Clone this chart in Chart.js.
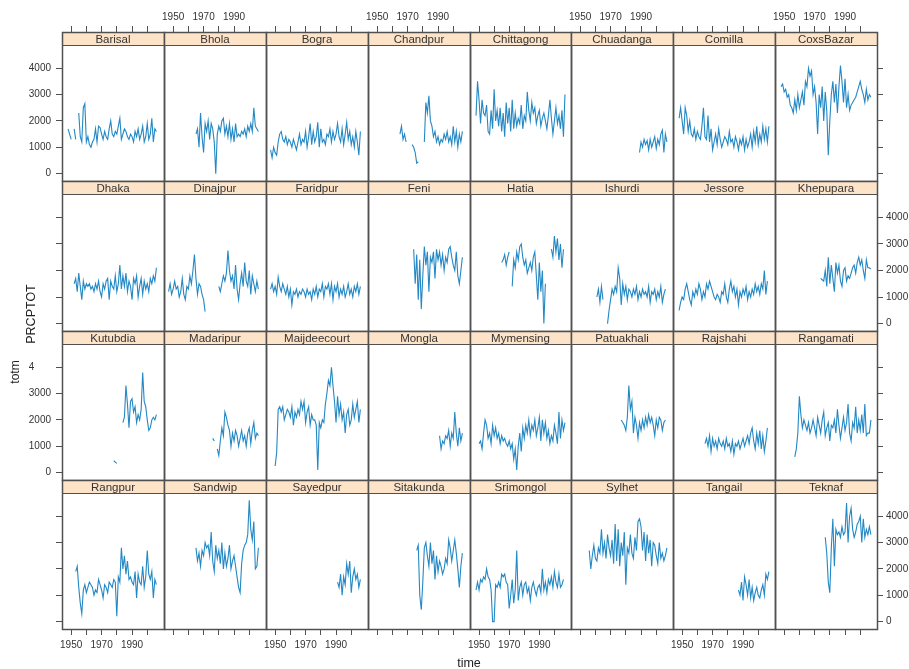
<!DOCTYPE html>
<html><head><meta charset="utf-8">
<script src="https://cdn.jsdelivr.net/npm/chart.js@4.4.1/dist/chart.umd.min.js"></script>
<style>
html,body{margin:0;padding:0;background:#fff;width:909px;height:669px;overflow:hidden;}
#wrap{position:relative;width:909px;height:669px;background:#fff;}
canvas{position:absolute;}
.strip{position:absolute;font-family:"Liberation Sans",Arial,sans-serif;font-size:11.5px;color:#333;text-align:center;pointer-events:none;white-space:nowrap;}
.lab{position:absolute;font-family:"Liberation Sans",Arial,sans-serif;color:#222;white-space:nowrap;transform-origin:center center;}
</style></head><body><div id="wrap"></div>
<script>
// ---------------- data ----------------
const stations = ["Barisal","Bhola","Bogra","Chandpur","Chittagong","Chuadanga","Comilla","CoxsBazar",
  "Dhaka","Dinajpur","Faridpur","Feni","Hatia","Ishurdi","Jessore","Khepupara",
  "Kutubdia","Madaripur","Maijdeecourt","Mongla","Mymensing","Patuakhali","Rajshahi","Rangamati",
  "Rangpur","Sandwip","Sayedpur","Sitakunda","Srimongol","Sylhet","Tangail","Teknaf"];
const firstYear = [1948,1965,1947,1965,1948,1989,1948,1948,
  1952,1947,1947,1974,1965,1961,1948,1974,
  1978,1976,1950,1991,1950,1977,1965,1957,
  1953,1965,1991,1976,1948,1956,1987,1977];
const xTicks = [1950,1960,1970,1980,1990,2000];
const xTickLabels = ["1950","","1970","","1990",""];
const yTicks = [0,1000,2000,3000,4000];
const yTickLabels = ["0","1000","2000","3000","4000"];

const barisal = [1700,1500,1300,null,1700,1300,null,2300,1400,1200,2500,2650,1200,1400,1100,1000,1200,1300,1700,1200,1800,1750,1500,1300,1600,1400,1300,1700,2000,1500,1400,1600,1500,1800,2100,1300,1500,1700,1600,1400,1300,1500,1400,1200,1600,1400,1700,1300,1500,1800,1200,1400,1900,1300,1500,2100,1200,1700,1600];
const bhola = [1500,1700,1000,2300,1400,800,1900,1600,2000,1300,1900,1700,1200,0,1500,1800,1600,2000,2100,1500,1800,1400,1900,1300,1700,1200,1900,1400,1500,1400,1600,1500,1700,1400,1800,1600,1900,1600,2500,1800,1700,1600];
const bogra = [900,600,1000,800,700,1200,1500,1600,1300,1200,1400,1100,1300,1200,1000,1300,1100,900,1200,1500,1100,1300,1200,1600,1000,1400,1900,1100,1600,1200,1400,1950,1000,1700,1200,1300,1100,1500,1400,1700,1200,1600,1300,1500,1900,1400,1200,1700,1100,1500,1950,1300,1600,1100,1400,1000,1600,1200,700,1600];
const chandpur = [1500,1800,1300,1500,1200,null,null,null,1100,1000,800,400,450,null,null,null,1200,2700,2300,2950,2000,1800,1400,1600,1200,1400,1100,1300,1200,1500,1300,1600,1200,1400,1100,1800,1200,1600,1000,1500,1200,1600];
const chittagong = [2200,3500,2800,1900,2800,2300,2200,2600,1600,1500,2400,1700,3200,2000,2400,1800,2500,1600,2300,1400,2700,1900,2500,1600,2800,1700,2300,1800,2100,1900,2600,1700,2200,2000,3100,2400,2000,2700,2300,2500,1900,2200,2400,1800,2100,2300,2000,1700,2200,2800,2100,1500,2000,2500,1900,2200,1700,2400,1400,3000];
const chuadanga = [800,1200,1000,1300,1100,1250,900,1300,1000,1200,1400,950,1300,1100,1500,1650,800,1500,1200];
const comilla = [2100,2500,2000,1500,2500,2200,1600,2000,1500,1400,1700,1300,1600,1400,1300,1800,2500,1400,1300,2200,1200,1700,900,1200,1500,1100,1700,1300,1000,1200,1400,1300,1100,1600,1200,1300,1000,1400,1200,900,1300,1100,1400,900,1300,1000,1200,1500,1000,1600,1200,1800,1100,1500,1200,1800,1300,1700,1200,1800];
const coxsBazar = [3300,3400,3100,3200,2900,3000,2600,2500,2300,2800,2400,3000,2500,2800,3100,2600,3500,3300,4000,3700,3900,3000,3300,2700,1500,3000,2500,3300,2000,3100,2400,700,2000,3000,3500,2700,3400,2300,3300,4100,3500,2700,3600,2500,3000,2400,2600,2700,2800,2900,3100,3300,3500,3200,3000,2700,3200,2800,3000,2900];
const dhaka = [1500,1700,1200,1900,1400,900,1600,1300,1500,1400,1500,1300,1400,1200,1500,1300,1600,1200,1000,1500,1300,1600,1700,900,1600,1400,1300,1800,1200,1500,2200,1300,1800,1400,1900,1200,1600,1400,900,1700,1500,1800,1000,1400,1700,1100,1600,1300,1500,1200,1700,1500,1800,1600,2100];
const dinajpur = [1200,1500,1100,1300,1600,1300,1400,1000,1200,1700,1100,900,1400,1300,1800,1500,2000,2600,1700,1100,1500,1400,1100,900,450,null,null,null,null,null,null,null,null,1400,1200,1500,1800,1600,1900,2750,2000,1600,1800,1300,2200,1300,900,1500,1900,1400,2300,1600,1400,2000,1100,1800,1500,1200,1600,1300];
const faridpur = [1300,1500,1200,1400,1100,1750,1400,1200,1500,1300,1100,1400,1000,1300,700,1200,1100,1300,1000,1200,1100,1300,1200,1000,1300,1100,1200,900,1300,1100,1400,1000,1300,1200,1500,1000,1400,1300,1500,1100,1500,900,1400,1200,1500,1000,1300,1100,1400,1000,1200,1500,1100,1300,1000,1400,1200,1500,1100,1400];
const feni = [2800,1500,2600,900,2400,550,1800,2900,2200,2700,1200,2500,2300,2700,1700,2800,2400,2700,2200,2600,2000,2500,2300,2800,2900,2500,2200,2000,2700,1800,1500,2000,2500];
const hatia = [2300,2400,2600,2200,2500,2700,null,1400,2400,2100,2700,2400,2900,3000,2500,2200,2400,1900,2100,2300,2000,2500,2700,1800,900,2300,1200,2000,0,1500,null,null,null,2800,2500,3300,2700,3200,2400,3000,2100,2800];
const ishurdi = [1000,1300,800,1400,900,null,null,0,500,900,1300,1100,1400,1200,2100,1700,700,1500,1100,1400,900,1300,1200,1000,1300,1100,1400,900,1200,1000,1300,1100,1200,1000,1400,800,1200,1100,1300,900,1200,1000,1400,800,1100,1300];
const jessore = [500,800,1000,900,1300,1500,1200,900,700,1200,1000,1300,1100,1500,1300,900,1200,1000,1500,1300,1600,1400,1200,1000,900,1100,1000,800,1200,1100,1500,1000,800,1300,1600,1200,1400,1000,1300,700,1200,1000,1300,1100,1400,900,1200,1000,1300,1100,1500,1200,1400,1100,1500,1300,2000,1100,1600];
const khepupara = [1700,1650,1600,2000,1400,2500,1500,2200,1700,1200,2300,1900,2200,1600,1400,2000,2100,1600,1800,1700,1900,2100,2200,1900,2300,2500,2200,2400,2000,1700,2400,2100,2100,2050];
const kutubdia = [450,400,350,null,null,null,1900,2100,3300,2600,1700,2700,2800,2300,2500,1900,2200,2000,2400,3800,2700,2500,2000,1600,1700,2000,2100,2000,2200];
const madaripur = [1300,1200,null,900,650,1200,1700,1400,2300,2100,1800,1600,1000,1500,1200,1600,1400,1000,1300,1600,1200,1400,1000,1500,1700,1100,1600,1900,1300,1500,1400];
const maijdeecourt = [250,750,2400,2500,2300,2500,2000,2200,2400,2300,2100,2500,1800,2300,2100,2400,2200,2700,2400,2700,1900,2300,2500,1800,2200,2000,2000,1800,100,1900,1700,2000,1900,2600,3000,3500,3300,4000,3300,2700,1900,2900,2200,2600,2000,2300,1500,2200,2400,1800,2000,2600,2100,2400,2700,1900,2400];
const mongla = [1400,900,1200,1100,1400,1300,1600,1000,1500,1300,2300,1500,1000,1700,1200,1500];
const mymensing = [1100,1200,900,1500,2000,1800,1300,1500,1100,1800,1400,1700,1300,1500,1100,1400,1200,1300,1100,1000,1200,900,1100,500,900,100,1000,1500,800,1700,1300,1800,1500,2000,1400,1800,1600,2000,1400,1700,2100,1200,2000,1500,1900,1300,1600,1100,1400,1200,1800,1500,1100,2300,1300,2000,1600,1900];
const patuakhali = [2000,1900,1800,1600,2100,3300,2400,2700,1500,2100,1800,1300,1900,1600,2000,1700,2100,1800,2200,1900,2100,1800,1400,2000,1700,2100,2000,1600,1900,2000];
const rajshahi = [1100,1300,1000,1400,800,1300,1000,1200,900,1300,1100,1000,1200,900,1300,1000,1100,800,1200,700,1100,1000,1200,900,1100,1300,1000,1200,1400,1100,1500,1700,1200,900,1500,1100,1600,900,1400,800,1200,1700];
const rangamati = [600,900,1500,2900,2200,1700,2000,1800,1600,1900,1500,1700,2000,1700,1400,2100,1800,1500,2000,2300,1400,1700,1900,1200,1800,1700,2000,1500,2400,1800,1300,1700,2100,1600,1900,2600,1500,1200,1900,1700,2500,1500,2000,1600,2200,1500,2600,1400,1500,1500,2000];
const rangpur = [1900,2100,1300,700,300,1200,1400,1100,1300,1500,1400,1300,1000,1200,1100,1600,1400,1200,900,1400,1300,1100,1500,1400,1300,1600,1500,200,1700,1500,2800,2000,2500,1800,2300,1600,1700,1500,1400,1900,900,1800,1500,1400,2100,1300,1700,2700,1800,1600,1900,900,1600,1400];
const sandwip = [2800,2300,2600,2100,2700,2500,3000,2800,2900,2500,3400,2300,1900,2900,2400,2700,2200,3000,2000,2600,2100,2400,2900,2000,2300,2500,2100,1700,1300,1100,2200,2700,2900,3000,3300,4600,3500,3100,3800,2000,2100,2800];
const sayedpur = [1500,1300,1800,1000,1700,1400,2200,1800,2300,1100,1700,2000,1600,1800,1300,1600];
const sitakunda = [2700,2900,1000,450,1500,2800,3000,2500,2100,3000,2200,2700,1600,2500,1900,2300,2100,1800,2000,2400,2200,3100,2800,2300,2700,3100,2600,2000,1300,2100,2600];
const srimongol = [1200,1500,1200,1600,1500,1700,1600,2000,1700,1600,1200,0,0,1400,1300,1500,1300,1800,1700,1800,1500,1400,500,1000,1600,700,1200,2700,800,1300,1500,1000,1400,1500,1100,1300,800,1300,1500,1200,1000,1300,1400,1100,2000,1200,1500,1100,1600,1400,1700,1300,1900,1500,1300,1800,1300,1400,1600];
const sylhet = [2700,2000,2500,2900,2400,2300,2800,2600,3500,2600,3000,2400,3300,2800,2500,3100,2200,3700,2300,3500,2100,3000,2500,3400,1400,2800,2600,3300,2600,2400,3200,2700,3800,3900,3600,2700,3400,2300,3300,2600,3100,2100,3000,2900,2500,2200,3000,2400,2600,2300,2500,2800];
const tangail = [1200,1000,1500,800,1700,1400,1000,1600,900,1300,800,1100,1300,1000,900,1200,1400,1000,1800,1600,1900];
const teknaf = [3200,2600,1500,1100,2800,3900,2100,3500,3300,3400,3200,3600,3300,3400,4500,3000,4000,4300,3500,3200,3400,3700,3800,4000,3000,3900,3200,3500,3300,3600,3300];

const series = [barisal,bhola,bogra,chandpur,chittagong,chuadanga,comilla,coxsBazar,
  dhaka,dinajpur,faridpur,feni,hatia,ishurdi,jessore,khepupara,
  kutubdia,madaripur,maijdeecourt,mongla,mymensing,patuakhali,rajshahi,rangamati,
  rangpur,sandwip,sayedpur,sitakunda,srimongol,sylhet,tangail,teknaf];

// ---------------- layout / style ----------------
const NCOL = 8, NROW = 4;
const gridLeft = 62, gridRight = 877, gridTop = 32, gridBottom = 629;
const stripH = 13;
const M = 40;
const xMin = 1944, xMax = 2011;
const yMinPlot = -280, yMaxPlot = 4880;
const lineColor = '#2388c4';
const frameColor = '#505050';
const stripColor = '#fde3c8';
const tickColor = '#333';
const fontFamily = '"Liberation Sans", Arial, sans-serif';

const wrap = document.getElementById('wrap');

const panelPlugin = {
  id: 'panelFrame',
  beforeDatasetsDraw(chart) {
    const a = chart.chartArea, c = chart.ctx;
    c.save();
    c.fillStyle = stripColor;
    c.fillRect(a.left, a.top, a.right - a.left, stripH);
    c.restore();
  },
  afterDatasetsDraw(chart) {
    const a = chart.chartArea, c = chart.ctx;
    c.save();
    c.strokeStyle = frameColor;
    c.lineWidth = 1.5;
    c.strokeRect(a.left + 0.5, a.top + 0.5, a.right - a.left, a.bottom - a.top);
    c.lineWidth = 1;
    c.beginPath();
    c.moveTo(a.left, a.top + stripH + 0.5);
    c.lineTo(a.right + 1, a.top + stripH + 0.5);
    c.stroke();
    c.restore();
  }
};

function fixSize(s) { if (s.isHorizontal()) s.height = M; else s.width = M; }

for (let k = 0; k < stations.length; k++) {
  const col = k % NCOL, row = Math.floor(k / NCOL);
  const x0 = Math.round(gridLeft + col * (gridRight - gridLeft) / NCOL);
  const x1 = Math.round(gridLeft + (col + 1) * (gridRight - gridLeft) / NCOL);
  const y0 = Math.round(gridTop + row * (gridBottom - gridTop) / NROW);
  const y1 = Math.round(gridTop + (row + 1) * (gridBottom - gridTop) / NROW);
  const w = x1 - x0, h = y1 - y0;
  const yMaxChart = yMaxPlot + stripH * (yMaxPlot - yMinPlot) / (h - stripH);

  const cv = document.createElement('canvas');
  cv.width = w + 2 * M; cv.height = h + 2 * M;
  cv.style.left = (x0 - M) + 'px'; cv.style.top = (y0 - M) + 'px';
  cv.style.width = cv.width + 'px'; cv.style.height = cv.height + 'px';
  wrap.appendChild(cv);

  const st = document.createElement('div');
  st.className = 'strip';
  st.style.left = x0 + 'px'; st.style.top = (y0 + 0.5) + 'px';
  st.style.width = w + 'px'; st.style.height = stripH + 'px';
  st.style.lineHeight = stripH + 'px';
  st.textContent = stations[k];
  wrap.appendChild(st);

  const showBottom = row === NROW - 1, labBottom = showBottom && col % 2 === 0;
  const showTop = row === 0, labTop = showTop && col % 2 === 1;
  const showLeft = col === 0, labLeft = showLeft && row % 2 === 0;
  const showRight = col === NCOL - 1, labRight = showRight && row % 2 === 1;

  const yLabels = yTickLabels.slice();
  if (row === 2 && col === 0) yLabels[4] = '4\u2007\u2007\u2007';

  const xAxis = (pos, show, lab) => ({
    type: 'linear', position: pos, min: xMin, max: xMax, display: true,
    afterFit: fixSize,
    afterBuildTicks: s => { s.ticks = xTicks.map(v => ({ value: v })); },
    grid: { display: show, drawOnChartArea: false, drawTicks: show, tickLength: 6, color: frameColor, lineWidth: 1 },
    border: { display: false },
    ticks: { display: lab, autoSkip: false, maxRotation: 0, padding: pos === 'top' ? 3 : 4,
      color: tickColor, font: { family: fontFamily, size: 10 },
      callback: (v, i) => xTickLabels[i] }
  });
  const yAxis = (pos, show, lab) => ({
    type: 'linear', position: pos, min: yMinPlot, max: yMaxChart, display: true,
    afterFit: fixSize,
    afterBuildTicks: s => { s.ticks = yTicks.map(v => ({ value: v })); },
    grid: { display: show, drawOnChartArea: false, drawTicks: show, tickLength: 6, color: frameColor, lineWidth: 1 },
    border: { display: false },
    ticks: { display: lab, autoSkip: false, padding: pos === 'left' ? 5 : 3,
      color: tickColor, font: { family: fontFamily, size: 10 },
      callback: (v, i) => yLabels[i] }
  });

  const vals = series[k];
  new Chart(cv, {
    type: 'line',
    data: {
      datasets: [{
        data: vals.map((v, i) => ({ x: firstYear[k] + i, y: v })),
        borderColor: lineColor, borderWidth: 1.1, pointRadius: 0, tension: 0,
        spanGaps: false, fill: false, xAxisID: 'x', yAxisID: 'y'
      }]
    },
    options: {
      responsive: false, maintainAspectRatio: false, animation: false,
      devicePixelRatio: 1, events: [],
      layout: { padding: 0 },
      plugins: { legend: { display: false }, tooltip: { enabled: false }, title: { display: false } },
      scales: {
        x: xAxis('bottom', showBottom, labBottom),
        x2: xAxis('top', showTop, labTop),
        y: yAxis('left', showLeft, labLeft),
        y2: yAxis('right', showRight, labRight)
      }
    },
    plugins: [panelPlugin]
  });
}

// axis titles
function addLabel(text, cx, cy, size, rot) {
  const d = document.createElement('div');
  d.className = 'lab';
  d.textContent = text;
  d.style.fontSize = size + 'px';
  wrap.appendChild(d);
  const r = d.getBoundingClientRect();
  d.style.left = (cx - r.width / 2) + 'px';
  d.style.top = (cy - r.height / 2) + 'px';
  if (rot) d.style.transform = 'rotate(' + rot + 'deg)';
}
addLabel('PRCPTOT', 31, 314, 12.5, -90);
addLabel('totm', 15, 372, 12, -90);
addLabel('time', 469, 663, 12.5, 0);
</script>
</body></html>
